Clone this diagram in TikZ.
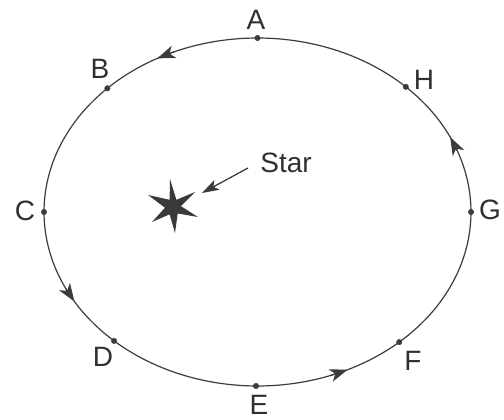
\documentclass[tikz,border=0pt]{standalone}
\usepackage{fontspec}
\setmainfont{Liberation Sans}
\usetikzlibrary{arrows.meta}
\definecolor{orbitgray}{HTML}{3C3C3C}
\definecolor{labelgray}{HTML}{303030}
\definecolor{stargray}{HTML}{3A3A3A}
\begin{document}
\begin{tikzpicture}[x=1pt,y=-1pt,
  orbit/.style={draw=orbitgray, line width=1.2pt},
  dot/.style={circle, fill=orbitgray, draw=orbitgray, inner sep=0pt, minimum size=5.5pt},
  lbl/.style={font=\fontsize{28}{28}\selectfont, text=labelgray, inner sep=0pt},
  tip/.style={-{Stealth[length=18pt,width=13pt,inset=5pt]}, draw=orbitgray, fill=orbitgray, line width=1.2pt},
  pointer/.style={-{Stealth[length=17pt,width=11pt,inset=4pt]}, draw=orbitgray, line width=1.3pt}]
\useasboundingbox (0,0) rectangle (504,420);
\def\cx{257.5}\def\cy{212}\def\ra{213.5}\def\rb{174}
% orbit
\draw[orbit] plot[domain=0:360, samples=160, smooth cycle] ({\cx+\ra*cos(\x)},{\cy-\rb*sin(\x)});
% arrowheads along the orbit (direction of motion A->B->C...)
\foreach \t in {118, 211, 295, 25.5}{
  \draw[tip] ({\cx+\ra*cos(\t-5)},{\cy-\rb*sin(\t-5)}) -- ({\cx+\ra*cos(\t)},{\cy-\rb*sin(\t)});
}
% points
\node[dot] (A) at ({\cx+\ra*cos(90)},{\cy-\rb*sin(90)}) {};
\node[dot] (B) at ({\cx+\ra*cos(134.7)},{\cy-\rb*sin(134.7)}) {};
\node[dot] (C) at ({\cx+\ra*cos(180)},{\cy-\rb*sin(180)}) {};
\node[dot] (D) at ({\cx+\ra*cos(227.8)},{\cy-\rb*sin(227.8)}) {};
\node[dot] (E) at ({\cx+\ra*cos(269.6)},{\cy-\rb*sin(269.6)}) {};
\node[dot] (F) at ({\cx+\ra*cos(311.6)},{\cy-\rb*sin(311.6)}) {};
\node[dot] (G) at ({\cx+\ra*cos(0)},{\cy-\rb*sin(0)}) {};
\node[dot] (H) at ({\cx+\ra*cos(46)},{\cy-\rb*sin(46)}) {};
% labels
\node[lbl] (lA) at (256,20) {A};
\node[lbl] (lB) at (100,69) {B};
\node[lbl] (lC) at (25,211) {C};
\node[lbl] (lD) at (103,357) {D};
\node[lbl] (lE) at (259,405) {E};
\node[lbl] (lF) at (413,361) {F};
\node[lbl] (lG) at (490,210) {G};
\node[lbl] (lH) at (424,80) {H};
% star
\fill[stargray] (170,179) -- (176.4,199.8) -- (195,192) -- (181,206.2) -- (198,217) -- (177.7,213.5)
  -- (175,233) -- (169.6,214.3) -- (152,222) -- (165,207.7) -- (148,195) -- (169.6,199.8) -- cycle;
\coordinate (starobj) at (202,193);
\node[lbl] (starlbl) at (286,163) {Star};
\coordinate (pstart) at (248,168);
\draw[pointer] (pstart) -- (starobj);
\end{tikzpicture}
\end{document}
